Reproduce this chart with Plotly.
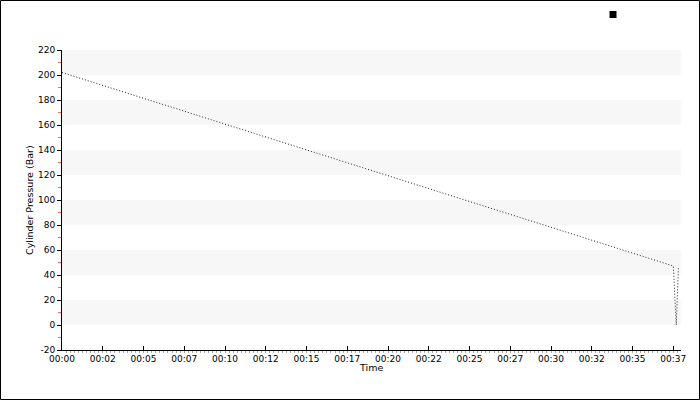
import plotly.graph_objects as go

# ---- data ----
time_min = [0.0, 37.5, 37.68, 37.81]
pressure_bar = [202.0, 47.2, 0.0, 45.5]

x_tick_vals = [0, 2.5, 5, 7.5, 10, 12.5, 15, 17.5, 20, 22.5, 25, 27.5, 30, 32.5, 35, 37.5]
x_tick_text = ["00:00", "00:02", "00:05", "00:07", "00:10", "00:12", "00:15", "00:17",
               "00:20", "00:22", "00:25", "00:27", "00:30", "00:32", "00:35", "00:37"]
y_tick_vals = [-20, 0, 20, 40, 60, 80, 100, 120, 140, 160, 180, 200, 220]
y_tick_text = ["-20", "0", "20", "40", "60", "80", "100", "120", "140", "160", "180", "200", "220"]
band_starts = [0, 40, 80, 120, 160, 200]
band_height = 20

W, H = 700, 400
ML, MR, MT, MB = 62, 19, 50, 50
PW, PH = W - ML - MR, H - MT - MB

def px_x(p):
    return (p - ML) / PW

def px_y(p):
    return (H - MB - p) / PH

FONT = "DejaVu Sans"

fig = go.Figure()
fig.add_trace(go.Scatter(
    x=time_min, y=pressure_bar, mode="lines",
    line=dict(color="#222222", width=1, dash="1px,2px"),
    showlegend=False, hoverinfo="skip",
))
fig.add_trace(go.Scatter(
    x=[None], y=[None], mode="markers", name="",
    marker=dict(symbol="square", size=7, color="black"),
    showlegend=True,
))

shapes = []
for b in band_starts:
    shapes.append(dict(type="rect", xref="x domain", yref="y", x0=0, x1=1,
                       y0=b, y1=b + band_height, fillcolor="#f7f7f7",
                       line=dict(width=0), layer="below"))
shapes.append(dict(type="rect", xref="paper", yref="paper",
                   x0=px_x(0.5), x1=px_x(W - 0.5), y0=px_y(H - 0.5), y1=px_y(0.5),
                   line=dict(color="black", width=1), fillcolor="rgba(0,0,0,0)"))

fig.update_layout(
    width=W, height=H,
    margin=dict(l=ML, r=MR, t=MT, b=MB, pad=0, autoexpand=False),
    paper_bgcolor="white", plot_bgcolor="white",
    font=dict(family=FONT, size=9, color="black"),
    shapes=shapes,
    showlegend=True,
    legend=dict(x=px_x(593), y=px_y(0), xanchor="left", yanchor="top",
                bgcolor="rgba(0,0,0,0)", font=dict(size=9)),
    annotations=[
        dict(text="Cylinder Pressure (Bar)", xref="paper", yref="paper",
             x=px_x(29), y=px_y(200), textangle=-90, showarrow=False,
             xanchor="center", yanchor="middle", font=dict(size=9.5)),
        dict(text="Time", xref="paper", yref="paper",
             x=px_x(371), y=px_y(367), showarrow=False,
             xanchor="center", yanchor="middle", font=dict(size=9.5)),
    ],
    xaxis=dict(
        range=[0, 37.97], tickmode="array", tickvals=x_tick_vals, ticktext=x_tick_text,
        ticks="inside", ticklen=4, tickcolor="black", tickwidth=1,
        showline=True, linecolor="black", linewidth=1, showgrid=False, zeroline=False,
        minor=dict(ticks="outside", ticklen=2, tickcolor="#aaaaaa", dtick=0.25, tick0=0,
                   showgrid=False),
        automargin=False, fixedrange=True,
    ),
    yaxis=dict(
        range=[-20, 220], tickmode="array", tickvals=y_tick_vals, ticktext=y_tick_text,
        ticks="outside", ticklen=4, tickcolor="black", tickwidth=1,
        showline=True, linecolor="black", linewidth=1, showgrid=False, zeroline=False,
        minor=dict(ticks="outside", ticklen=3, tickcolor="#f07070", dtick=10, tick0=-20,
                   showgrid=False),
        automargin=False, fixedrange=True,
    ),
)

post = ("document.documentElement.style.margin='0';document.body.style.margin='0';"
        "document.body.style.overflow='hidden';"
        "var gd=document.getElementById('{plot_id}');"
        "gd.style.position='absolute';gd.style.left='0px';gd.style.top='0px';")

fig.write_html("out.html", post_script=post, config={"displayModeBar": False})
